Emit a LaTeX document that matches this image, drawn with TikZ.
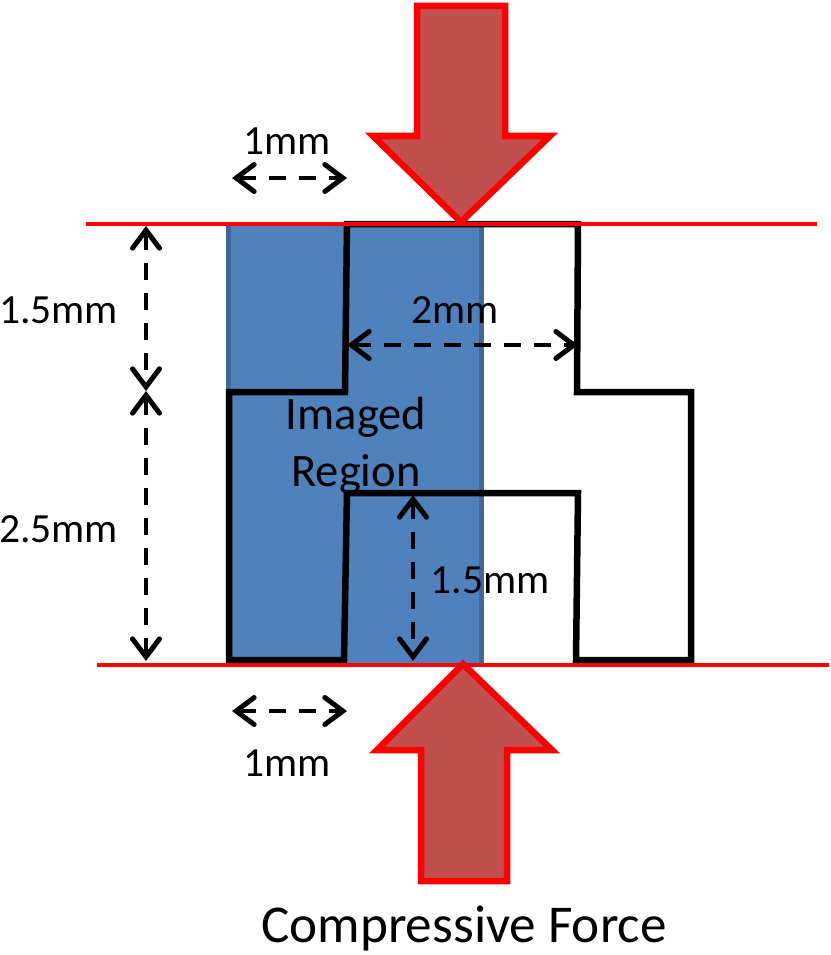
\documentclass[tikz,border=0pt]{standalone}
\usepackage{fontspec}
\setmainfont{Carlito}
\usetikzlibrary{arrows.meta}
\definecolor{bluefill}{HTML}{4F81BD}
\definecolor{blueedge}{HTML}{3F6797}
\definecolor{arrowfill}{HTML}{C0504D}
\tikzset{
  force/.style={draw=red,fill=arrowfill,line width=6.5pt,miter limit=10},
  redline/.style={draw=red,line width=4pt},
  sample/.style={draw=black,line width=6.5pt,line join=miter},
  dim/.style={draw=black,line width=4.6pt,dash pattern=on 17pt off 13pt,
    {Straight Barb[length=18pt,width=27pt,line cap=round,line width=5pt]}-{Straight Barb[length=18pt,width=27pt,line cap=round,line width=5pt]}},
  lbl/.style={font=\fontsize{41.5pt}{46pt}\selectfont,text=black,inner sep=0pt,align=center},
  biglbl/.style={font=\fontsize{46.5pt}{50pt}\selectfont,text=black,inner sep=0pt,align=center},
}
\begin{document}
\begin{tikzpicture}[x=1pt,y=-1pt]
\useasboundingbox (0,0) rectangle (830,955);
% imaged region
\fill[bluefill] (226,222) rectangle (484,664);
\fill[blueedge] (226,222) rectangle (231,664);
\fill[blueedge] (479,222) rectangle (484,664);
% sample outline
\draw[sample] (347,224) -- (578,224) -- (577,392) -- (691,392) -- (691,660) -- (576,660)
  -- (578,493) -- (347,493) -- (344,660) -- (229,660) -- (229,392) -- (345,392) -- cycle;
% forces
\draw[force] (417,6) -- (505,6) -- (505,136) -- (550,136) -- (461,222) -- (373,136) -- (417,136) -- cycle;
\draw[force] (463,664) -- (552,750) -- (507,750) -- (507,881) -- (421,881) -- (421,750) -- (377,750) -- cycle;
% platens
\coordinate (tl) at (86,223.5); \coordinate (tr) at (817,223.5);
\coordinate (bl) at (97,664.5); \coordinate (br) at (829,664.5);
\draw[redline] (tl) -- (tr);
\draw[redline] (bl) -- (br);
% dimensions
\coordinate (a1) at (232,178); \coordinate (a2) at (347,178);
\coordinate (b1) at (232,711); \coordinate (b2) at (347,711);
\coordinate (c1) at (347,345); \coordinate (c2) at (578,345);
\coordinate (d1) at (146,226); \coordinate (d2) at (146,391);
\coordinate (e1) at (146,391); \coordinate (e2) at (146,661);
\coordinate (f1) at (413,495); \coordinate (f2) at (413,661);
\draw[dim] (a1) -- (a2);
\draw[dim] (b1) -- (b2);
\draw[dim] (c1) -- (c2);
\draw[dim] (d1) -- (d2);
\draw[dim] (e1) -- (e2);
\draw[dim] (f1) -- (f2);
% labels
\node[lbl] (n1) at (287,141) {1mm};
\node[lbl] (n2) at (287,763) {1mm};
\node[lbl] (n3) at (455,310) {2mm};
\node[lbl] (n4) at (58.5,310) {1.5mm};
\node[lbl] (n5) at (58.5,529) {2.5mm};
\node[lbl] (n6) at (490,580) {1.5mm};
\node[biglbl] (n7) at (356,417) {Imaged};
\node[biglbl] (n8) at (356,474) {Region};
\node[lbl,font=\fontsize{53.2pt}{58pt}\selectfont] (n9) at (464,928) {Compressive Force};
\end{tikzpicture}
\end{document}
